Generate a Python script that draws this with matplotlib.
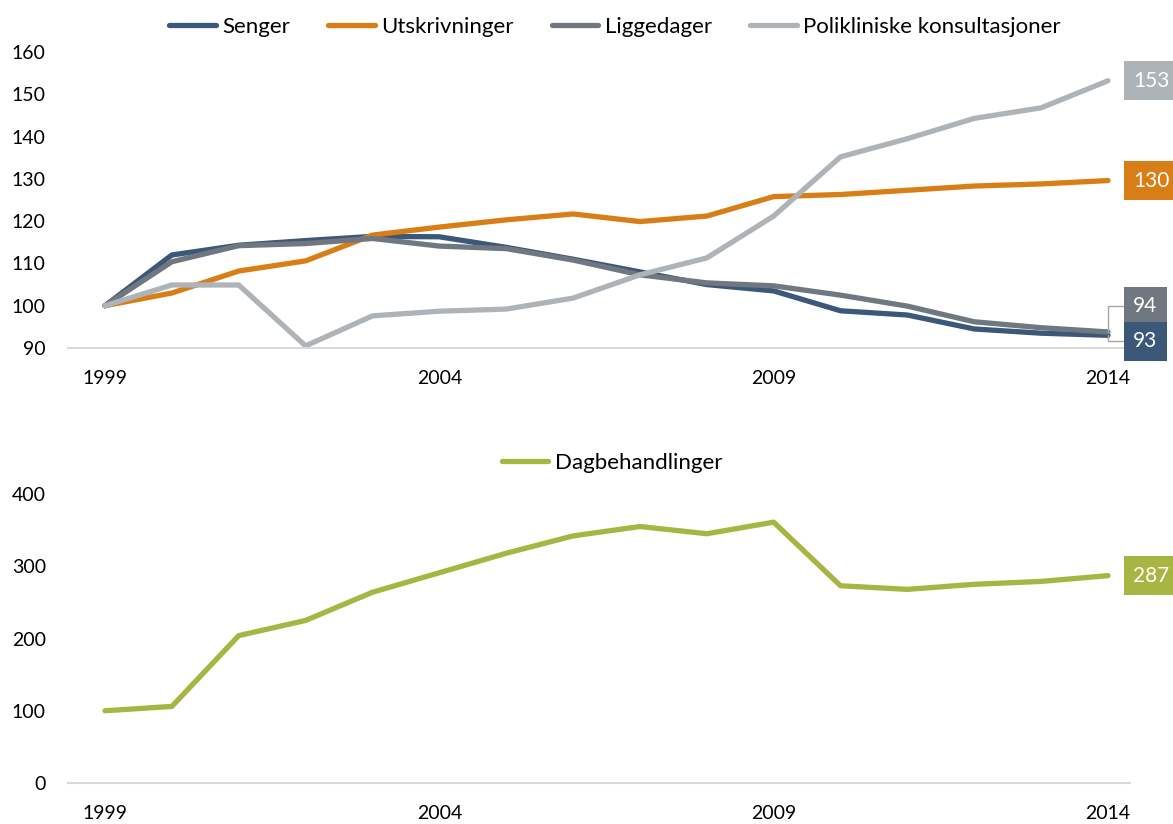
import matplotlib
matplotlib.use("Agg")
import matplotlib.pyplot as plt

plt.rcParams['font.family'] = ['Lato', 'DejaVu Sans']

years = list(range(1999, 2015))

senger = [100, 112.0, 114.3, 115.4, 116.4, 116.3, 113.8, 111.0, 108.0, 105.0, 103.5,
          98.8, 97.8, 94.5, 93.5, 93.0]
utskrivninger = [100, 103.0, 108.2, 110.6, 116.7, 118.6, 120.3, 121.7, 119.9, 121.2, 125.8,
                 126.3, 127.3, 128.3, 128.8, 129.6]
liggedager = [100, 110.4, 114.2, 114.7, 115.9, 114.1, 113.5, 110.8, 107.3, 105.4, 104.7,
              102.5, 99.9, 96.2, 94.8, 93.8]
poliklinikk = [100, 104.9, 104.9, 90.5, 97.6, 98.7, 99.2, 101.8, 107.3, 111.3, 121.2,
               135.2, 139.5, 144.3, 146.8, 153.2]
dagbehandlinger = [100, 106, 204, 225, 264, 291, 318, 342, 355, 345, 361,
                   273, 268, 275, 279, 287]

top_series = [
    ("Senger", senger, "#3B5878"),
    ("Utskrivninger", utskrivninger, "#D97E17"),
    ("Liggedager", liggedager, "#6F7880"),
    ("Polikliniske konsultasjoner", poliklinikk, "#AEB3B8"),
]
green = "#A7B542"
xticks = [1999, 2004, 2009, 2014]

W, H = 1173, 824
fig = plt.figure(figsize=(W / 100, H / 100), dpi=100)

L, R = 68, 1130
px_per_year = (1108 - 105) / 15
xmin = 1999 - (105 - L) / px_per_year
xmax = 2014 + (R - 1108) / px_per_year


def style_axes(ax):
    for s in ['top', 'right', 'left']:
        ax.spines[s].set_visible(False)
    ax.spines['bottom'].set_color('#D9D9D9')
    ax.spines['bottom'].set_linewidth(1.5)
    ax.set_xlim(xmin, xmax)
    ax.set_xticks(xticks)
    ax.set_xticklabels([str(x) for x in xticks])
    ax.tick_params(axis='x', length=0, pad=16, labelsize=14)
    ax.tick_params(axis='y', length=0, pad=16, labelsize=14)


def end_label(ax, y, text, color, dy=0, leader=False):
    arrow = None
    if leader:
        arrow = dict(arrowstyle='-', color='#A6A6A6', lw=1,
                     connectionstyle='angle,angleA=0,angleB=90,rad=0',
                     shrinkA=0, shrinkB=0)
    ax.annotate(text, xy=(2014, y), xytext=(25, dy), textcoords='offset pixels',
                ha='left', va='center', fontsize=15, color='white',
                bbox=dict(boxstyle='square,pad=0.45', fc=color, ec='none'),
                arrowprops=arrow, annotation_clip=False)


# top chart
ax1 = fig.add_axes([L / W, (H - 348) / H, (R - L) / W, 296 / H])
for name, vals, col in top_series:
    ax1.plot(years, vals, color=col, lw=3.8, label=name, solid_capstyle='round',
             solid_joinstyle='round')
ax1.set_ylim(90, 160)
ax1.set_yticks(range(90, 161, 10))
style_axes(ax1)

end_label(ax1, poliklinikk[-1], "153", "#AEB3B8")
end_label(ax1, utskrivninger[-1], "130", "#D97E17")
end_label(ax1, liggedager[-1], "94", "#6F7880", dy=26, leader=True)
end_label(ax1, senger[-1], "93", "#3B5878", dy=-6, leader=True)

fig.legend(*ax1.get_legend_handles_labels(), loc='center', ncol=4,
           bbox_to_anchor=(615 / W, 1 - 27 / H), frameon=False, fontsize=16,
           handlelength=2.1, handletextpad=0.3, columnspacing=1.7)

# bottom chart
ax2 = fig.add_axes([L / W, (H - 783) / H, (R - L) / W, 289 / H])
ax2.plot(years, dagbehandlinger, color=green, lw=3.8, label="Dagbehandlinger",
         solid_capstyle='round', solid_joinstyle='round')
ax2.set_ylim(0, 400)
ax2.set_yticks(range(0, 401, 100))
style_axes(ax2)
end_label(ax2, dagbehandlinger[-1], "287", green)

fig.legend(*ax2.get_legend_handles_labels(), loc='center',
           bbox_to_anchor=(612 / W, 1 - 463 / H), frameon=False, fontsize=16,
           handlelength=2.1, handletextpad=0.3)

fig.savefig("out.png", dpi=100)
